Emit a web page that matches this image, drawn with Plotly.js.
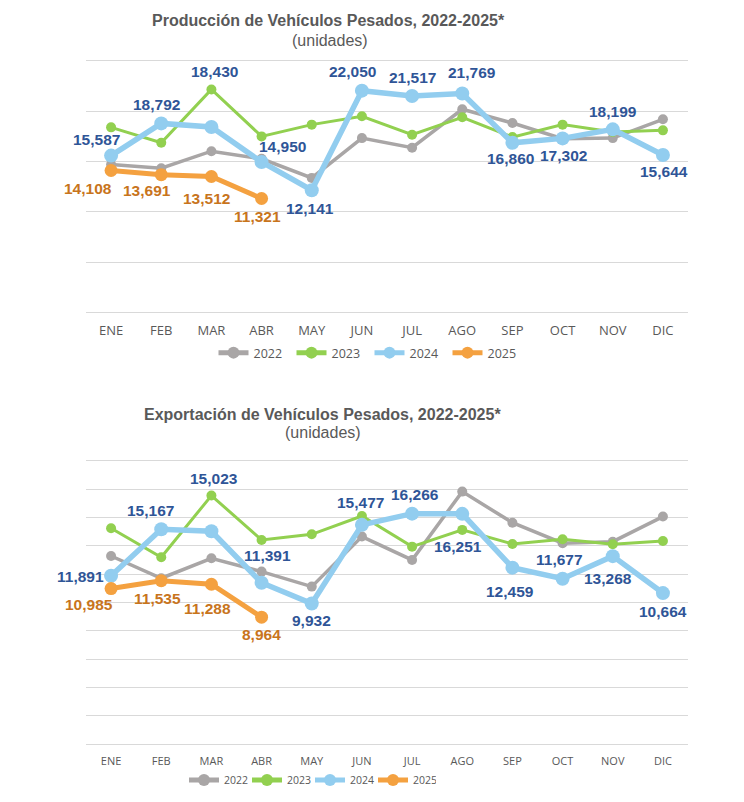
<!DOCTYPE html>
<html>
<head>
<meta charset="utf-8">
<script src="https://cdn.plot.ly/plotly-3.0.1.min.js"></script>
<style>
html,body{margin:0;padding:0;background:#fff;}
#chart{width:744px;height:802px;}
</style>
</head>
<body>
<div id="chart"></div>
<script>
// ---- Data ----
const meses = ['ENE','FEB','MAR','ABR','MAY','JUN','JUL','AGO','SEP','OCT','NOV','DIC'];
const anios = ['2022','2023','2024','2025'];

// Producción (unidades)
const prod2022 = [14700, 14330, 16030, 15270, 13370, 17330, 16370, 20200, 18830, 17270, 17330, 19200];
const prod2023 = [18400, 16870, 22170, 17500, 18670, 19500, 17670, 19400, 17430, 18670, 17930, 18100];
const prod2024 = [15587, 18792, 18430, 14950, 12141, 22050, 21517, 21769, 16860, 17302, 18199, 15644];
const prod2025 = [14108, 13691, 13512, 11321];

// Exportación (unidades)
const exp2022 = [13280, 11710, 13120, 12180, 11120, 14650, 13000, 17820, 15630, 14180, 14290, 16060];
const exp2023 = [15240, 13190, 17540, 14410, 14810, 16100, 13940, 15120, 14130, 14460, 14110, 14340];
const exp2024 = [11891, 15167, 15023, 11391, 9932, 15477, 16266, 16251, 12459, 11677, 13268, 10664];
const exp2025 = [10985, 11535, 11288, 8964];

// ---- Label placement (screen px offsets: [dx, dy-down]) ----
const offProd2024 = [[-15,-16],[-5,-19],[3,-56],[21,-16],[-2,18],[-9,-19],[0,-19],[10,-21],[-2,16],[1,17],[0,-18],[1,16]];
const offProd2025 = [[-23,18],[-14,16],[-5,22],[-4,18]];
const offExp2024  = [[-31,1],[-11,-19],[3,-53],[6,-27],[0,17],[-1,-22],[3,-19],[-4,33],[-2,24],[-3,-19],[-5,22],[0,18]];
const offExp2025  = [[-22,16],[-4,18],[-4,24],[0,17]];

// ---- Styles ----
const colors = {g:'#A9A6A6', v:'#92D050', a:'#92CDEF', n:'#F4A140'};
const lblBlue = '#2F5597', lblOrange = '#C8741C';
const textGray = '#595959';
const gridColor = '#D9D9D9';

function trace(x, y, name, color, lw, ms, xa, ya, leg) {
  return {x: x, y: y, name: name, type: 'scatter', mode: 'lines+markers',
    line: {color: color, width: lw}, marker: {color: color, size: ms},
    xaxis: xa, yaxis: ya, legend: leg, hoverinfo: 'skip'};
}

const traces = [
  trace(meses, prod2022, anios[0], colors.g, 3.5, 10, 'x', 'y', 'legend'),
  trace(meses, prod2023, anios[1], colors.v, 3, 10, 'x', 'y', 'legend'),
  trace(meses, prod2024, anios[2], colors.a, 5.5, 14, 'x', 'y', 'legend'),
  trace(meses.slice(0, prod2025.length), prod2025, anios[3], colors.n, 5, 13, 'x', 'y', 'legend'),
  trace(meses, exp2022, anios[0], colors.g, 3.5, 10, 'x2', 'y2', 'legend2'),
  trace(meses, exp2023, anios[1], colors.v, 3, 10, 'x2', 'y2', 'legend2'),
  trace(meses, exp2024, anios[2], colors.a, 5.5, 14, 'x2', 'y2', 'legend2'),
  trace(meses.slice(0, exp2025.length), exp2025, anios[3], colors.n, 5, 13, 'x2', 'y2', 'legend2')
];

const fmt = v => v.toLocaleString('en-US');
const annotations = [];
function addLabels(vals, offs, color, xr, yr) {
  vals.forEach((v, i) => {
    annotations.push({x: meses[i], y: v, xref: xr, yref: yr, text: fmt(v), showarrow: false,
      xanchor: 'center', yanchor: 'middle', xshift: offs[i][0], yshift: -offs[i][1],
      font: {family: 'Liberation Sans, Arial, sans-serif', size: 15.5, color: color, weight: 'bold'}});
  });
}
addLabels(prod2024, offProd2024, lblBlue, 'x', 'y');
addLabels(prod2025, offProd2025, lblOrange, 'x', 'y');
addLabels(exp2024, offExp2024, lblBlue, 'x2', 'y2');
addLabels(exp2025, offExp2025, lblOrange, 'x2', 'y2');

const W = 744, H = 802;
function titleAnn(text, cx, cy, bold) {
  return {text: text, xref: 'paper', yref: 'paper', x: cx / W, y: 1 - cy / H, showarrow: false,
    xanchor: 'center', yanchor: 'middle',
    font: {family: 'Liberation Sans, Arial, sans-serif', size: 16, color: textGray, weight: bold ? 'bold' : 'normal'}};
}
annotations.push(titleAnn('Producción de Vehículos Pesados, 2022-2025*', 328, 21, true));
annotations.push(titleAnn('(unidades)', 330, 40, false));
annotations.push(titleAnn('Exportación de Vehículos Pesados, 2022-2025*', 322, 414, true));
annotations.push(titleAnn('(unidades)', 323, 433, false));

const xdom = [86 / W, 688 / W];
// x axis line mirrored gives the bottom (0) and top border lines of each plot
const xbase = {type: 'category', range: [-0.5, 11.5], showgrid: false, zeroline: false,
  showline: true, mirror: true, linecolor: gridColor, linewidth: 1,
  ticks: '', fixedrange: true, tickfont: {family: 'Open Sans, sans-serif', color: textGray}};
const ybase = {showticklabels: false, showgrid: true, gridcolor: gridColor, gridwidth: 1,
  zeroline: false, showline: false, ticks: '', fixedrange: true};

const layout = {
  width: W, height: H,
  margin: {l: 0, r: 0, t: 0, b: 0},
  paper_bgcolor: '#ffffff', plot_bgcolor: '#ffffff',
  showlegend: true,
  xaxis: Object.assign({}, xbase, {domain: xdom, anchor: 'y', tickfont: Object.assign({}, xbase.tickfont, {size: 13}), ticklabelstandoff: 6}),
  yaxis: Object.assign({}, ybase, {domain: [1 - 312.3 / H, 1 - 61 / H], range: [0, 25000], dtick: 5000, tick0: 0, anchor: 'x'}),
  xaxis2: Object.assign({}, xbase, {domain: xdom, anchor: 'y2', tickfont: Object.assign({}, xbase.tickfont, {size: 11}), ticklabelstandoff: 6}),
  yaxis2: Object.assign({}, ybase, {domain: [1 - 744.3 / H, 1 - 460.7 / H], range: [0, 20000], dtick: 2000, tick0: 0, anchor: 'x2'}),
  legend: {orientation: 'h', x: 369.5 / W, y: 1 - 353 / H, xanchor: 'center', yanchor: 'middle',
    font: {family: 'Open Sans, sans-serif', size: 12.5, color: textGray}, itemwidth: 30, itemsizing: 'constant',
    entrywidth: 33, bgcolor: 'rgba(0,0,0,0)'},
  legend2: {orientation: 'h', x: 310 / W, y: 1 - 780 / H, xanchor: 'center', yanchor: 'middle',
    font: {family: 'Open Sans, sans-serif', size: 10.5, color: textGray}, itemwidth: 30, itemsizing: 'constant',
    entrywidth: 18, bgcolor: 'rgba(0,0,0,0)'},
  annotations: annotations
};

Plotly.newPlot('chart', traces, layout, {displayModeBar: false, staticPlot: true});
</script>
</body>
</html>
